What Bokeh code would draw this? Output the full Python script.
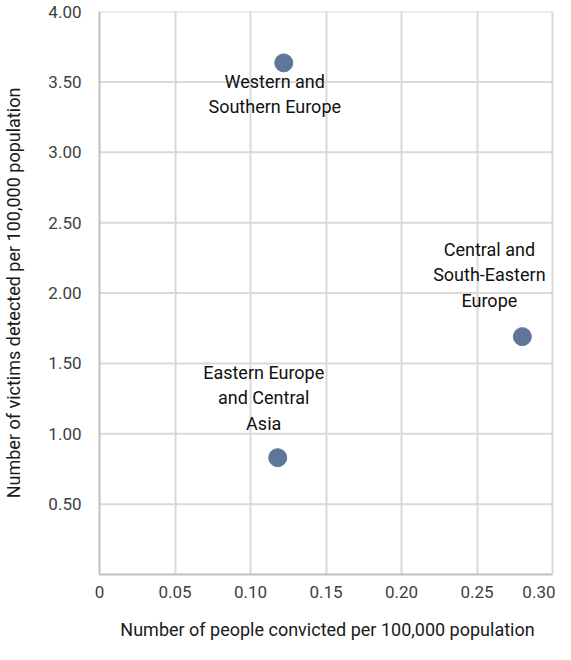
from bokeh.plotting import figure
from bokeh.models import ColumnDataSource, LabelSet, FixedTicker
from bokeh.core.properties import value
from bokeh.embed import file_html
from bokeh.resources import INLINE

# Data
regions = ["Western and\nSouthern Europe", "Eastern Europe\nand Central\nAsia", "Central and\nSouth-Eastern\nEurope"]
convicted = [0.122, 0.118, 0.28]
victims = [3.635, 0.83, 1.69]
x_ticks = [0.0, 0.05, 0.10, 0.15, 0.20, 0.25, 0.30]
x_tick_labels = ["0", "0.05", "0.10", "0.15", "0.20", "0.25", "0.30"]
y_ticks = [0.5, 1.0, 1.5, 2.0, 2.5, 3.0, 3.5, 4.0]
y_tick_labels = ["0.50", "1.00", "1.50", "2.00", "2.50", "3.00", "3.50", "4.00"]

# label placement (styles): offsets of label-block centre from point, in px
lab_dx = [-9, -14, -33]
lab_dy = [-31, 60, 62]
LINE_GAP = 25.5

FONT = "Roboto"
POINT = "#5f7599"
GRID = "#d9d9d9"
AXIS = "#c0c0c0"

src = ColumnDataSource(dict(x=convicted, y=victims))

# one row per label line, built from the data above
lx, ly, lt, ldx, ldy = [], [], [], [], []
for name, xv, yv, dx, dy in zip(regions, convicted, victims, lab_dx, lab_dy):
    lines = name.split("\n")
    n = len(lines)
    for i, line in enumerate(lines):
        lx.append(xv); ly.append(yv); lt.append(line); ldx.append(dx)
        ldy.append(dy + ((n - 1) / 2 - i) * LINE_GAP)
lab_src = ColumnDataSource(dict(x=lx, y=ly, text=lt, dx=ldx, dy=ldy))

x_end = x_ticks[-1]
# frame runs 3px past the last gridline so overflowing labels stay visible
p = figure(width=555, height=642, output_backend="svg", toolbar_location=None,
           x_range=(0, x_end * 467 / 464), y_range=(0, y_ticks[-1]),
           min_border_left=88, min_border_right=0, min_border_top=11, min_border_bottom=65)
p.outline_line_color = None
p.background_fill_color = "white"

for ax in (p.xaxis[0], p.yaxis[0]):
    ax.axis_line_color = AXIS
    ax.axis_line_width = 2
    ax.major_tick_line_color = None
    ax.minor_tick_line_color = None
    ax.major_label_text_font = FONT
    ax.major_label_text_font_size = "17px"
    ax.major_label_text_color = "#404040"
    ax.axis_label_text_font = FONT
    ax.axis_label_text_font_size = "18px"
    ax.axis_label_text_font_style = "normal"
    ax.axis_label_text_color = "#1a1a1a"

p.xaxis.ticker = FixedTicker(ticks=x_ticks)
p.xaxis.major_label_overrides = dict(zip(x_ticks, x_tick_labels))
p.xaxis.major_label_text_align = "right"
p.xaxis.major_label_standoff = 5
p.xaxis.bounds = (0, x_end)
p.xaxis.axis_label = "Number of people convicted per 100,000 population"
p.xaxis.axis_label_standoff = 18

p.yaxis.ticker = FixedTicker(ticks=y_ticks)
p.yaxis.major_label_overrides = dict(zip(y_ticks, y_tick_labels))
p.yaxis.major_label_standoff = 12
p.yaxis.axis_label = "Number of victims detected per 100,000 population"
p.yaxis.axis_label_standoff = 21

p.xgrid.ticker = FixedTicker(ticks=x_ticks[1:])
p.xgrid.grid_line_color = GRID
p.xgrid.grid_line_width = 2
p.ygrid.grid_line_color = None
# horizontal gridlines limited to the axis extent
p.segment(x0=0, x1=x_end, y0=y_ticks, y1=y_ticks, line_color=GRID, line_width=2)

p.scatter("x", "y", source=src, size=18, fill_color=POINT, line_color=POINT)

labels = LabelSet(x="x", y="y", text="text", source=lab_src, x_offset="dx", y_offset="dy",
                  text_align="center", text_baseline="middle", text_font=value(FONT),
                  text_font_size="18px", text_color="#111111")
p.add_layout(labels)

open("out.html", "w").write(file_html(p, INLINE))
